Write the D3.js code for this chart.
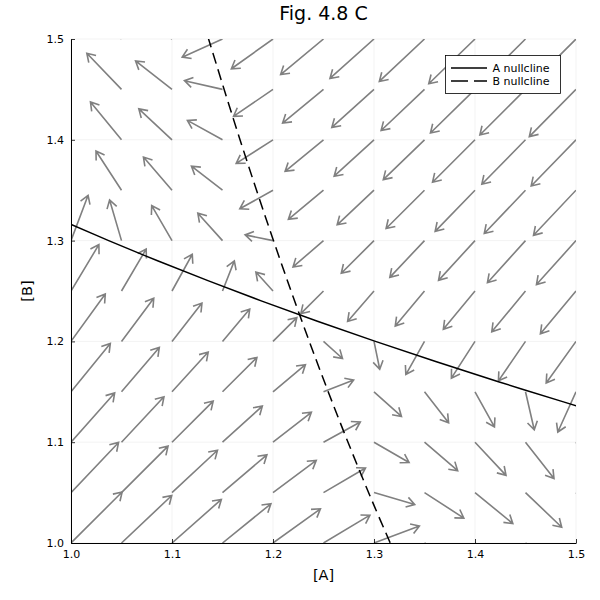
<!DOCTYPE html>
<html>
<head>
<meta charset="utf-8">
<script src="https://cdn.jsdelivr.net/npm/d3@7"></script>
<style>
  html, body { margin: 0; padding: 0; background: #fff; }
  svg { display: block; font-family: "DejaVu Sans", sans-serif; }
</style>
</head>
<body>
<svg id="chart" width="600" height="600"></svg>
<script>
// ---- Data ----
const aGrid = [1.00, 1.05, 1.10, 1.15, 1.20, 1.25, 1.30, 1.35, 1.40, 1.45, 1.50];
const bGrid = [1.00, 1.05, 1.10, 1.15, 1.20, 1.25, 1.30, 1.35, 1.40, 1.45, 1.50];

// d[A]/dt at grid points; one row per [B] value, columns follow aGrid
const dARows = [
  [5.000, 4.750, 4.500, 4.250, 4.000, 3.750, 3.500, 3.250, 3.000, 2.750, 2.500],
  [4.027, 3.777, 3.527, 3.277, 3.027, 2.777, 2.527, 2.277, 2.027, 1.777, 1.527],
  [3.117, 2.867, 2.617, 2.367, 2.117, 1.867, 1.617, 1.367, 1.117, 0.867, 0.617],
  [2.275, 2.025, 1.775, 1.525, 1.275, 1.025, 0.775, 0.525, 0.275, 0.025, -0.225],
  [1.507, 1.257, 1.007, 0.757, 0.507, 0.257, 0.007, -0.243, -0.493, -0.743, -0.993],
  [0.812, 0.562, 0.312, 0.062, -0.188, -0.438, -0.688, -0.938, -1.188, -1.438, -1.688],
  [0.187, -0.063, -0.313, -0.563, -0.813, -1.063, -1.313, -1.563, -1.813, -2.063, -2.313],
  [-0.372, -0.622, -0.872, -1.122, -1.372, -1.622, -1.872, -2.122, -2.372, -2.622, -2.872],
  [-0.869, -1.119, -1.369, -1.619, -1.869, -2.119, -2.369, -2.619, -2.869, -3.119, -3.369],
  [-1.310, -1.560, -1.810, -2.060, -2.310, -2.560, -2.810, -3.060, -3.310, -3.560, -3.810],
  [-1.701, -1.951, -2.201, -2.451, -2.701, -2.951, -3.201, -3.451, -3.701, -3.951, -4.201]
];
// d[B]/dt at grid points; one row per [B] value, columns follow aGrid
const dBRows = [
  [5.000, 4.027, 3.117, 2.275, 1.507, 0.812, 0.187, -0.372, -0.869, -1.310, -1.701],
  [4.750, 3.777, 2.867, 2.025, 1.257, 0.562, -0.063, -0.622, -1.119, -1.560, -1.951],
  [4.500, 3.527, 2.617, 1.775, 1.007, 0.312, -0.313, -0.872, -1.369, -1.810, -2.201],
  [4.250, 3.277, 2.367, 1.525, 0.757, 0.062, -0.563, -1.122, -1.619, -2.060, -2.451],
  [4.000, 3.027, 2.117, 1.275, 0.507, -0.188, -0.813, -1.372, -1.869, -2.310, -2.701],
  [3.750, 2.777, 1.867, 1.025, 0.257, -0.438, -1.063, -1.622, -2.119, -2.560, -2.951],
  [3.500, 2.527, 1.617, 0.775, 0.007, -0.688, -1.313, -1.872, -2.369, -2.810, -3.201],
  [3.250, 2.277, 1.367, 0.525, -0.243, -0.938, -1.563, -2.122, -2.619, -3.060, -3.451],
  [3.000, 2.027, 1.117, 0.275, -0.493, -1.188, -1.813, -2.372, -2.869, -3.310, -3.701],
  [2.750, 1.777, 0.867, 0.025, -0.743, -1.438, -2.063, -2.622, -3.119, -3.560, -3.951],
  [2.500, 1.527, 0.617, -0.225, -0.993, -1.688, -2.313, -2.872, -3.369, -3.810, -4.201]
];

// A nullcline points ([A], [B])
const aNullA = [1.0002, 1.0373, 1.0857, 1.1362, 1.1890, 1.2440, 1.3014, 1.3611, 1.4232, 1.4876, 1.5007];
const aNullB = [1.316, 1.300, 1.280, 1.260, 1.240, 1.220, 1.200, 1.180, 1.160, 1.140, 1.136];
// B nullcline points ([A], [B])
const bNullA = [1.316, 1.300, 1.280, 1.260, 1.240, 1.220, 1.200, 1.180, 1.160, 1.140, 1.136];
const bNullB = [1.0002, 1.0373, 1.0857, 1.1362, 1.1890, 1.2440, 1.3014, 1.3611, 1.4232, 1.4876, 1.5007];

const tickVals = [1.0, 1.1, 1.2, 1.3, 1.4, 1.5];
const tickLabels = ["1.0", "1.1", "1.2", "1.3", "1.4", "1.5"];
const legendLabels = ["A nullcline", "B nullcline"];
const titleText = "Fig. 4.8 C";

// ---- Layout ----
const svg = d3.select("#chart");
const pL = 71, pR = 576, pT = 39, pB = 543;

const x = d3.scaleLinear().domain([1.0, 1.5]).range([pL, pR]);
const y = d3.scaleLinear().domain([1.0, 1.5]).range([pB, pT]);
// arrow length scale (cube-root compression of the rate components)
const arrowLen = d3.scalePow().exponent(1 / 3).domain([0, 1]).range([0, 0.0296]);

svg.append("defs").append("clipPath").attr("id", "plotclip")
  .append("rect").attr("x", pL).attr("y", pT)
  .attr("width", pR - pL).attr("height", pB - pT);

// grid
const grid = svg.append("g");
tickVals.forEach(v => {
  grid.append("line").attr("x1", x(v)).attr("x2", x(v)).attr("y1", pT).attr("y2", pB)
    .attr("stroke", "#000").attr("stroke-opacity", 0.1).attr("stroke-width", 0.5);
  grid.append("line").attr("y1", y(v)).attr("y2", y(v)).attr("x1", pL).attr("x2", pR)
    .attr("stroke", "#000").attr("stroke-opacity", 0.1).attr("stroke-width", 0.5);
});

// arrows
const arrows = [];
bGrid.forEach((b, j) => {
  aGrid.forEach((a, i) => {
    arrows.push({ a, b, da: dARows[j][i], db: dBRows[j][i] });
  });
});

const field = svg.append("g").attr("clip-path", "url(#plotclip)")
  .attr("stroke", "#808080").attr("stroke-width", 1.6).attr("fill", "none")
  .attr("stroke-linecap", "butt").attr("stroke-linejoin", "miter");

const headLen = 9.5, headAng = 32 * Math.PI / 180;
arrows.forEach(d => {
  const x0 = x(d.a), y0 = y(d.b);
  const x1 = x(d.a + arrowLen(d.da)), y1 = y(d.b + arrowLen(d.db));
  const ang = Math.atan2(y1 - y0, x1 - x0);
  const hx1 = x1 - headLen * Math.cos(ang - headAng), hy1 = y1 - headLen * Math.sin(ang - headAng);
  const hx2 = x1 - headLen * Math.cos(ang + headAng), hy2 = y1 - headLen * Math.sin(ang + headAng);
  field.append("path")
    .attr("d", `M${x0},${y0}L${x1},${y1}M${hx1},${hy1}L${x1},${y1}L${hx2},${hy2}`);
});

// nullclines
const lineGen = d3.line().x(p => x(p[0])).y(p => y(p[1])).curve(d3.curveCatmullRom);
const curves = svg.append("g").attr("clip-path", "url(#plotclip)");
curves.append("path").datum(aNullA.map((a, k) => [a, aNullB[k]]))
  .attr("d", lineGen).attr("fill", "none").attr("stroke", "#000").attr("stroke-width", 1.5);
curves.append("path").datum(bNullA.map((a, k) => [a, bNullB[k]]))
  .attr("d", lineGen).attr("fill", "none").attr("stroke", "#000").attr("stroke-width", 1.5)
  .attr("stroke-dasharray", "11,6");

// axes
const xAxis = d3.axisBottom(x).tickValues(tickVals).tickFormat((d, k) => tickLabels[k])
  .tickSizeInner(-4).tickSizeOuter(0).tickPadding(7);
const yAxis = d3.axisLeft(y).tickValues(tickVals).tickFormat((d, k) => tickLabels[k])
  .tickSizeInner(-4).tickSizeOuter(0).tickPadding(7);
const gx = svg.append("g").attr("transform", `translate(0,${pB})`).call(xAxis);
const gy = svg.append("g").attr("transform", `translate(${pL},0)`).call(yAxis);
[gx, gy].forEach(g => {
  g.select(".domain").attr("stroke", "#000").attr("stroke-width", 1);
  g.selectAll(".tick line").attr("stroke", "#000").attr("stroke-width", 0.8);
  g.selectAll(".tick text").attr("font-size", 11).attr("fill", "#000")
    .attr("font-family", "DejaVu Sans, sans-serif");
});

// title & labels
svg.append("text").attr("x", (pL + pR) / 2).attr("y", 20)
  .attr("text-anchor", "middle").attr("font-size", 19).attr("fill", "#000").text(titleText);
svg.append("text").attr("x", (pL + pR) / 2).attr("y", 580)
  .attr("text-anchor", "middle").attr("font-size", 14.5).attr("fill", "#000").text("[A]");
svg.append("text").attr("transform", `translate(32,${(pT + pB) / 2}) rotate(-90)`)
  .attr("text-anchor", "middle").attr("font-size", 14.5).attr("fill", "#000").text("[B]");

// legend
const lg = svg.append("g").attr("transform", "translate(445.5,55.5)");
lg.append("rect").attr("width", 115).attr("height", 38)
  .attr("fill", "#fff").attr("stroke", "#000").attr("stroke-width", 0.8);
legendLabels.forEach((lab, k) => {
  const yy = 12.5 + k * 13;
  lg.append("line").attr("x1", 5.5).attr("x2", 41.5).attr("y1", yy).attr("y2", yy)
    .attr("stroke", "#000").attr("stroke-width", 1.5)
    .attr("stroke-dasharray", k === 1 ? "17,6" : null);
  lg.append("text").attr("x", 47).attr("y", yy).attr("dy", "0.35em")
    .attr("font-size", 11).attr("fill", "#000").text(lab);
});
</script>
</body>
</html>
